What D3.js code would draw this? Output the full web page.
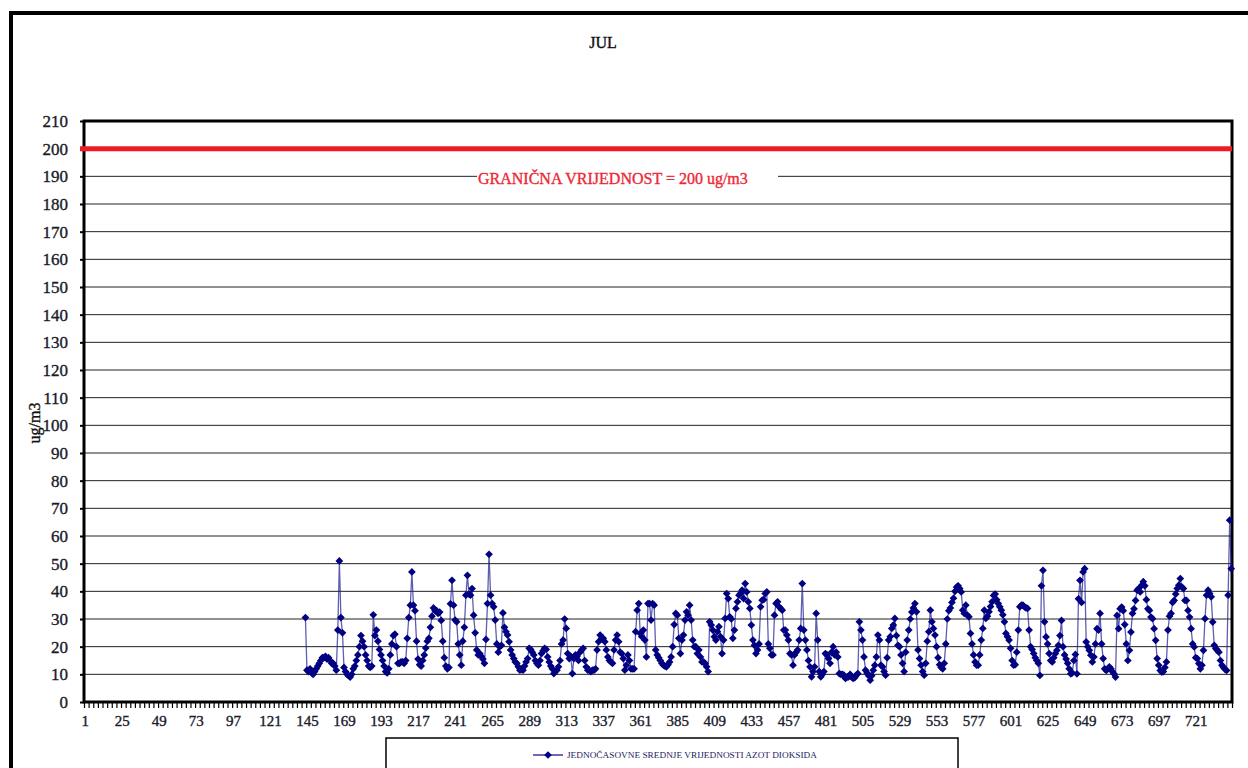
<html>
<head>
<meta charset="utf-8">
<script src="https://d3js.org/d3.v7.min.js"></script>
<style>
  body { margin: 0; background: white; }
  text { font-family: "Liberation Serif", "Times New Roman", serif; }
</style>
</head>
<body>
<svg width="1248" height="768"></svg>
<script>
// chart data (hourly NO2, July)
const title = "JUL";
const yTitle = "ug/m3";
const seriesName = "JEDNOČASOVNE SREDNJE VRIJEDNOSTI AZOT DIOKSIDA";
const limitValue = 200;
const limitLabel = "GRANIČNA VRIJEDNOST = 200 ug/m3";
const hourCount = 744;
const firstHour = 144;
const yTicks = [0, 10, 20, 30, 40, 50, 60, 70, 80, 90, 100, 110, 120, 130, 140, 150, 160, 170, 180, 190, 200, 210];
const xTicks = [1, 25, 49, 73, 97, 121, 145, 169, 193, 217, 241, 265, 289, 313, 337, 361, 385, 409, 433, 457, 481, 505, 529, 553, 577, 601, 625, 649, 673, 697, 721];
const no2 = [
  30.5,11.5,11,12,10.5,10,11,12,13,14,15,16,16,16.5,15.5,16,15,14,14,13,
  11.5,26,51,30.5,25,12.5,11,10,9.5,9,10,12,13,15,17,20,24,22,20,17,
  15,13,12.5,13,31.5,24,26,22,19,17,15,13,11,10.5,12,17,21,24,24.5,20,
  14,14,14.5,14.5,14,15,23,30.5,35,47,35,33,22,15.5,13.5,13,15,17,19.5,22,
  23,27,31,34,33,33,32,32.5,29.5,22,16,13,12,12.5,35.5,44,35,29.6,29,21,
  17,13.3,22,27,38.6,45.8,39,38.6,41,31.4,25,18.8,17,17.5,16.5,15.5,14,22.6,35.6,53.4,
  38.6,35.6,34.4,29.6,21,18,20,20.5,32.2,27,25.4,24.2,21.8,18.8,17,15.7,14.5,14,12.7,11.5,
  11.8,11.5,13,14.5,15.7,19.4,19,18,17,15,14,13.3,15,17.5,18.5,19.4,19,16.3,14.5,13,
  12,10.3,11,11.5,12.7,15,21,22.4,30,26.6,17.5,15.7,16.5,10.3,15.7,17,16.5,15,18,18.8,
  19.4,15,12.7,11.5,11.5,11,11.5,11.5,12,18.8,21.8,24.2,23,23,21.8,18.8,16.3,15,14.5,14,
  18.8,22.4,24.2,21.8,18,17.5,15.7,11.5,13.3,17,15,12,12,12,25.4,33.2,35.6,24.8,23.6,26,
  22.4,16.3,35.6,35.6,29.6,35.6,35,18.8,17,16,15,14,13.3,13,12.7,13.5,14.5,16.3,20,28,
  32,31.4,23,17.5,22.4,24.2,29.6,32.6,31.4,35,29.6,22.4,20,20,17.5,18.8,16.3,14.5,14.5,14,
  12.7,11,29,27.8,26,23.6,22.4,25.4,27.2,23.6,17.5,22.4,30.2,39.2,37.4,30.8,30,23,26,33.8,
  36.2,38.6,39.2,40.4,37.4,42.8,39.8,36.2,33.8,27.8,22.4,20.5,17.5,18.8,21,34.4,36.8,37,39.2,39.8,
  21,19.4,17,17,31.4,35.6,36.2,34.4,33.8,33.2,26,26,24.2,22.4,17.5,17,13.3,17,18,18.8,
  22.4,26.6,42.8,26,22.4,18.8,15,12.7,9.1,11,12.7,32,22.4,11,9.1,10,11,17.5,17,15.7,
  14,18,20,17,18,16.3,10.3,10,10,9.7,8.5,9,9.1,10,9,8.5,8.8,9.7,10.3,29,
  26,22.4,16.3,11.5,10.5,9.5,7.9,9.5,11.5,13.3,16.3,24.2,22.4,13.3,12.7,11,9.7,16,22.4,23.6,
  26.6,27.8,30.2,24,20.5,20,17,14,11,18,22.4,26,30,32.5,34,35.6,32.6,18.8,15.7,13.3,
  11,9.7,14,22,25.4,33.2,29,26.6,24.2,20,16,13.5,12.5,12,14,21,30,33,34,36,
  37.5,40,41.5,42,41,39.8,33.2,32,35,31.4,30.8,24.8,21,17,14.5,13.3,13.3,17,22.4,26.6,
  33.2,30.2,31,32.6,34.5,36.2,38.5,39,37,35.6,34.4,33.2,31.5,29,24.8,23.6,22.4,19.4,15,13.3,
  13.5,18,26,34.4,35,35,34.4,34,33.8,26,20,19,17.5,16,15,14,9.6,42,47.6,29,
  23.5,21,17.5,15,14.5,16,17.5,18.7,20.5,24,29.5,20,17,15.5,14,12,10.2,10.5,15,17.2,
  10.2,37.3,44,36,47,48.2,21.7,20,18.7,16.9,14.5,16.3,21,26.5,26,32,21,15.7,12,11.4,
  12,12.7,12,11,10.2,9,31.3,26.5,33.7,34.3,33,28,21,15,18.7,25.3,32,33.7,36.7,40.4,
  41,39.8,42.2,43.5,42,37,33.7,33.1,30.7,30.1,26.5,22.3,15.7,13.3,11.4,10.8,11,12.5,14.5,26,
  31,32,36,36.7,39,41,42.2,44.6,41.6,41,36.7,36.7,33.1,30.7,26.5,21,19.9,16,15.7,13.9,
  12,13.3,18.7,30.1,38.6,40.4,39.2,38,28.9,20.5,19.3,18.7,18,15,13.3,12.5,11.8,11.4,38.6,65.7,
  48.2
];

const data = d3.range(1, hourCount + 1).map(h => ({
  hour: h,
  value: (h >= firstHour && no2[h - firstHour] != null) ? no2[h - firstHour] : null
}));

const plotLeft = 84, plotRight = 1232, plotTop = 121, plotBottom = 702;
const x = d3.scaleLinear().domain([0.5, hourCount + 0.5]).range([plotLeft, plotRight]);
const y = d3.scaleLinear().domain([0, 210]).range([plotBottom, plotTop]);

const svg = d3.select("svg");

// outer frame
svg.append("rect")
  .attr("x", 11).attr("y", 13).attr("width", 1300).attr("height", 800)
  .attr("fill", "none").attr("stroke", "black").attr("stroke-width", 4);

svg.append("text")
  .attr("x", 603).attr("y", 48)
  .attr("text-anchor", "middle")
  .attr("fill", "#111").attr("stroke", "#111").attr("stroke-width", 0.4)
  .style("font-size", "16px")
  .text(title);

// gridlines
svg.append("g")
  .selectAll("line")
  .data(yTicks.filter(t => t > 0 && t < 200))
  .enter()
  .append("line")
  .attr("x1", plotLeft).attr("x2", plotRight)
  .attr("y1", d => y(d)).attr("y2", d => y(d))
  .attr("stroke", "#222").attr("stroke-width", 1);

// y axis
const yAxis = svg.append("g")
  .attr("transform", "translate(" + plotLeft + ",0)")
  .call(d3.axisLeft(y).tickValues(yTicks).tickSize(4).tickPadding(12));
yAxis.select(".domain").remove();
yAxis.selectAll(".tick line").attr("stroke", "black").attr("stroke-width", 2);
yAxis.selectAll("text")
  .attr("fill", "#1a1a2a").attr("stroke", "#1a1a2a").attr("stroke-width", 0.35)
  .style("font-family", "'Liberation Serif', serif")
  .style("font-size", "17px");

// x axis tick marks and labels
const xMarks = svg.append("g")
  .attr("transform", "translate(0," + plotBottom + ")")
  .call(d3.axisBottom(x).tickValues(d3.range(0.5, hourCount + 1, 3)).tickSize(6).tickFormat(""));
xMarks.select(".domain").remove();
xMarks.selectAll(".tick line").attr("stroke", "black").attr("stroke-width", 1.2);

const xAxis = svg.append("g")
  .attr("transform", "translate(0," + plotBottom + ")")
  .call(d3.axisBottom(x).tickValues(xTicks).tickSize(0).tickPadding(13));
xAxis.select(".domain").remove();
xAxis.selectAll("text")
  .attr("fill", "#1a1a2a").attr("stroke", "#1a1a2a").attr("stroke-width", 0.35)
  .style("font-family", "'Liberation Serif', serif")
  .style("font-size", "15px");

// plot frame
svg.append("rect")
  .attr("x", plotLeft).attr("y", plotTop)
  .attr("width", plotRight - plotLeft).attr("height", plotBottom - plotTop)
  .attr("fill", "none").attr("stroke", "black").attr("stroke-width", 3);

// limit line
svg.append("line")
  .attr("x1", plotLeft - 4).attr("x2", plotRight)
  .attr("y1", y(limitValue)).attr("y2", y(limitValue))
  .attr("stroke", "#ed1c24").attr("stroke-width", 5);

svg.append("rect")
  .attr("x", 477).attr("y", 168).attr("width", 301).attr("height", 18)
  .attr("fill", "white");
svg.append("text")
  .attr("x", 478).attr("y", 184)
  .attr("fill", "#ec2836").attr("stroke", "#ec2836").attr("stroke-width", 0.35)
  .style("font-size", "16px")
  .text(limitLabel);

// series
const line = d3.line()
  .defined(d => d.value != null)
  .x(d => x(d.hour))
  .y(d => y(d.value));

svg.append("path")
  .datum(data)
  .attr("d", line)
  .attr("fill", "none")
  .attr("stroke", "#1a1a90")
  .attr("stroke-opacity", 0.7)
  .attr("stroke-width", 1.3);

const diamond = d3.symbol().type(d3.symbolSquare).size(30);
svg.append("g")
  .selectAll("path")
  .data(data.filter(d => d.value != null))
  .enter()
  .append("path")
  .attr("d", diamond)
  .attr("transform", d => "translate(" + x(d.hour) + "," + y(d.value) + ") rotate(45)")
  .attr("fill", "#000080");

// y title
svg.append("text")
  .attr("transform", "translate(40,423) rotate(-90)")
  .attr("text-anchor", "middle")
  .attr("fill", "#111").attr("stroke", "#111").attr("stroke-width", 0.35)
  .style("font-size", "16px")
  .text(yTitle);

// legend
svg.append("rect")
  .attr("x", 386).attr("y", 738).attr("width", 572).attr("height", 60)
  .attr("fill", "white").attr("stroke", "black").attr("stroke-width", 1.5);
svg.append("line")
  .attr("x1", 533).attr("x2", 563).attr("y1", 755).attr("y2", 755)
  .attr("stroke", "#1a1a90").attr("stroke-width", 1.3);
svg.append("path")
  .attr("d", diamond)
  .attr("transform", "translate(548,755) rotate(45)")
  .attr("fill", "#000080");
svg.append("text")
  .attr("x", 567).attr("y", 758)
  .attr("fill", "#1a1a60")
  .attr("textLength", 250)
  .attr("lengthAdjust", "spacingAndGlyphs")
  .style("font-size", "9px")
  .text(seriesName);
</script>
</body>
</html>
